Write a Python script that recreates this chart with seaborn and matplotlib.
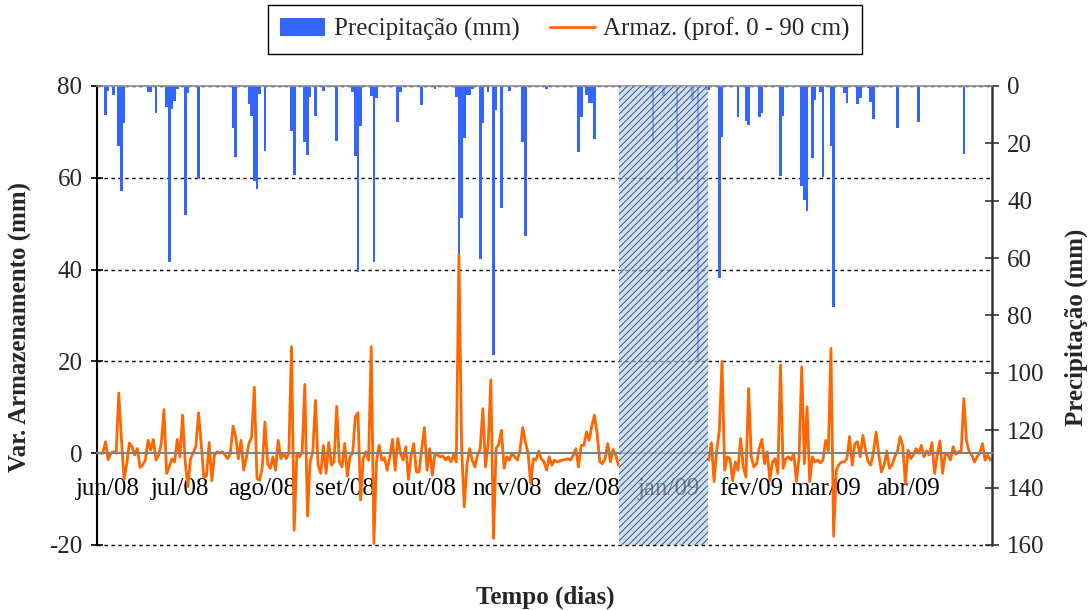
import numpy as np
import matplotlib
matplotlib.use("Agg")
import matplotlib.pyplot as plt
import matplotlib.transforms as mtransforms
from matplotlib.patches import Patch
from matplotlib.lines import Line2D
import seaborn as sns

# ---------------- data ----------------
month_labels = ["jun/08", "jul/08", "ago/08", "set/08", "out/08", "nov/08",
                "dez/08", "jan/09", "fev/09", "mar/09", "abr/09"]
month_start_day = [0, 30, 61, 92, 122, 153, 183, 214, 245, 273, 304]

# daily precipitation (mm): day index (0 = 1 jun 2008) and amount
precip_days = [2, 3, 5, 7, 8, 9, 10, 18, 19, 21, 25, 26, 27, 28, 29, 30, 32, 33, 37, 46,
               50, 51, 52, 55, 56, 57, 58, 59, 60, 62, 68, 69, 72, 73, 77, 78, 79, 81, 82,
               84, 86, 87, 89, 95, 96, 97, 98, 102, 103, 104, 112, 113, 121, 126, 133, 134,
               135, 136, 137, 138, 139, 140, 143, 144, 145, 146, 148, 149, 151, 154, 156,
               157, 158, 159, 160, 164, 168, 180, 181, 183, 184, 185, 186, 193, 207, 208,
               212, 217, 223, 225, 228, 229, 233, 234, 240, 241, 243, 244, 245, 248, 249,
               256, 257, 261, 262, 264, 265, 266, 268, 269, 271, 272, 275, 276, 279, 280,
               281, 282, 285, 286, 289, 290, 291, 296, 300, 308, 314, 316, 325]
precip_mm = [10, 1.6, 3, 21, 36.5, 13, 0.3, 2, 2, 9.3, 7.2, 61.5, 7.9, 5.1, 1, 0.3, 44.8, 2.3, 32.3, 0.3,
             14.5, 24.6, 0.5, 0.5, 6.3, 10.3, 33, 36, 2.8, 22.5, 0.5, 0.5, 15.6, 30.9, 19.4, 23.9, 3.7, 10.3, 0.5,
             1.6, 0.5, 0.5, 19, 2, 24.3, 64.7, 13.8, 3.4, 61.2, 4.1, 12.4, 2, 6.5, 0.9, 0.5, 3.7,
             60.6, 45.9, 18, 3, 3, 1, 60.3, 12.8, 0.5, 2, 93.7, 8.4, 42.4, 1.6, 0.5,
             0.5, 0.5, 19.4, 52.2, 0.5, 1, 22.9, 10.9, 3, 5.8, 5.8, 18.4, 0.5, 1.6, 19.4,
             3.4, 33.3, 4.9, 96, 1.4, 1.4, 66.8, 17.7, 10.7, 0.5, 12.1, 13.5, 0.5, 10.7, 9.3,
             31.2, 10.3, 0.3, 0.3, 35, 39.6, 43.4, 25, 4.8, 2, 31.6, 20.8, 77.2, 0.5, 2.3,
             5.8, 0.5, 6.2, 4.1, 0.6, 5.5, 11.4, 0.5, 14.5, 12.4, 0.5, 0.5, 23.6]

# storage variation (mm), first period: days 0..195
storage_part1 = [0, 0, 2.5, -1.4, 0, 0.3, 0, 13.1, 3, -5.7,
                 -2.3, 2.2, 1.4, -0.4, 1.0, -3.1, -2.6, -1.5, 2.8, 0.7,
                 3.0, -1.5, -0.4, 2.1, 9.5, -4.4, -3.0, -1.2, -1.9, 3.0,
                 -0.8, 8.3, -2.0, -7.3, -1.2, 0, 1.5, 8.8, 2.1, -5.2,
                 -5.0, 2.3, -6.0, -0.4, 0.3, 0, 0.3, -0.4, -1.2, 0,
                 5.9, 3.6, -1.2, 2.8, -3.7, -1.0, 2.1, 3.6, 14.4, -5.5,
                 -5.9, -3.0, 6.8, -2.3, -3.3, -0.8, -3.7, 2.8, -1.2, 0,
                 -1.2, 0, 23.2, -16.8, 0, -0.8, 0.3, 15, -13.7, -1.9,
                 0.3, 11.5, -2.6, -4.4, 1.7, -4.4, 2.3, -2.6, -1.9, 10.2,
                 -1.9, -3.0, 2.1, -5.0, -0.8, 0, 7.9, 8.8, -10.2, -1.2,
                 0.3, -1.5, 23.2, -19.7, -1.5, 1.7, -1.5, -1.0, -3.7, -0.8,
                 3.0, -3.7, 3.2, 0, -1.5, 1.4, -5.7, -0.5, 2.1, -4.1,
                 -4.1, 1.0, 5.6, -3.7, 1.0, -4.8, 0, -0.4, -0.8, -0.6,
                 -1.5, -0.8, -1.9, -0.4, -1.9, 43.2, 1.5, -11.7, -2.6, 1.0,
                 -1.5, -3.0, -0.4, 1.0, 9.7, -3.0, 2.1, 16, -18.6, 1.0,
                 2.0, 5.0, -3.3, -0.8, -1.5, 0, -0.8, -1.5, 0.7, 5.6,
                 2.5, 0, -6.6, -1.2, -1.5, 0.5, -1.2, -1.9, -3.7, -0.8,
                 -2.6, -1.5, -1.9, -1.7, -1.5, -1.4, -1.2, -1.5, -0.5, 1.0,
                 -3.0, 1.7, 1.7, 4.6, 2.8, 5.9, 8.3, 4.3, -1.9, -2.3,
                 -1.2, 2.1, -1.9, 0.8, -0.4, -2.6]
part1_first_day = 0

# second period: days 229..335
storage_part2 = [-1.5, 2.3, -6.2, 0.6, 5, 20, -3.7, -0.8, -1.2, -6.0,
                 -1.9, -3.7, 3.2, -3.0, -5.2, 14.1, -0.8, -3.0, -2.3, 1.0,
                 3.0, -2.3, 0.3, -5.9, -1.9, -1.2, -4.4, 19.2, -3.3, -1.2,
                 -0.8, -1.5, 0, -6.2, -0.8, 18.8, -2.3, 10.1, -6.2, -0.8,
                 -1.9, -1.5, -2.1, -1.5, 2.8, 0.5, 22.8, -18.1, -3.7, -2.5,
                 -1.9, -1.9, -1.2, 3.6, -2.6, 2.1, 2.5, -0.8, 3.9, 0.7,
                 -1.9, -2.6, 0.3, 4.6, -0.4, -4.1, -2.6, 0.5, -3.3, -2.6,
                 -0.8, 0.3, 3.6, 1.7, -6.6, 0.7, -1.2, -0.4, 1.0, 0,
                 1.7, -0.8, 0.5, -0.4, 2.3, -4.4, -0.4, 2.7, -4.4, 0,
                 -0.4, -1.5, 1.4, -0.2, 0.3, 0.5, 11.9, 2.8, 0.3, -0.4,
                 -1.9, -0.8, 0, 2.1, -1.5, -0.4, -1.5]
part2_first_day = 229

# period without storage data (shaded)
gap_start_day, gap_end_day = 195.3, 228.7

# ---------------- style ----------------
BLUE = "#3366FF"
ORANGE = "#FF6600"
sns.set_style("white")
plt.rcParams["font.family"] = ["Liberation Serif", "DejaVu Serif"]
plt.rcParams["axes.unicode_minus"] = False
plt.rcParams["hatch.linewidth"] = 0.7
FS = 18

fig = plt.figure(figsize=(10.91, 6.10), dpi=100)
ax = fig.add_axes([0.08891, 0.10656, 0.82035, 0.75246])
ax2 = ax.twinx()

# bars (right axis, inverted)
sns.barplot(x=precip_days, y=precip_mm, native_scale=True, color=BLUE,
            saturation=1, width=1.0, linewidth=0, errorbar=None, ax=ax2)
ax2.set_ylim(160, 0)
ax2.set_yticks(np.arange(0, 161, 20))

# storage lines (left axis)
d1 = np.arange(part1_first_day, part1_first_day + len(storage_part1))
d2 = np.arange(part2_first_day, part2_first_day + len(storage_part2))
for d, s in ((d1, storage_part1), (d2, storage_part2)):
    sns.lineplot(x=d, y=s, ax=ax, color=ORANGE, linewidth=2.0,
                 estimator=None, sort=False)

ax.set_ylim(-20, 80)
ax.set_yticks(np.arange(-20, 81, 20))
ax.set_xlim(-1.2, 335.6)
ax.set_xticks(month_start_day)
ax.set_xticklabels(month_labels)

# dotted grid on left-axis values, drawn beneath the bars
lo, hi = ax.get_ylim()
for v in ax.get_yticks():
    if v == 0:
        continue
    mm = (hi - v) / (hi - lo) * 160
    ax2.axhline(mm, color="black", linewidth=1.0, linestyle=(0, (2.5, 2.5)),
                zorder=0, clip_on=False)

# layering: line axes above bar axes
ax.set_zorder(ax2.get_zorder() + 1)
ax.patch.set_visible(False)

# shaded gap
ax.axvspan(gap_start_day, gap_end_day, facecolor=(0.70, 0.81, 0.92, 0.65),
           edgecolor=(0.22, 0.27, 0.38, 0.9), hatch="/////", linewidth=0, zorder=6)

# spines
ax.spines["bottom"].set_position(("data", 0))
ax.spines["bottom"].set_color("#808080")
ax.spines["bottom"].set_linewidth(1.5)
ax.spines["top"].set_color("#909090")
ax.spines["top"].set_linewidth(1.2)
ax.spines["left"].set_color("black")
ax.spines["left"].set_linewidth(1.5)
ax.spines["right"].set_color("#333333")
ax.spines["right"].set_linewidth(1.8)
for s in ax2.spines.values():
    s.set_visible(False)

ax.tick_params(axis="x", direction="out", length=5, width=1.2, color="#707070",
               pad=13, labelsize=FS, labelcolor="black")
ax.tick_params(axis="y", direction="inout", length=9, width=1.2, color="black",
               labelsize=FS, pad=6)
ax2.tick_params(axis="y", direction="inout", length=10, width=1.2, color="#333333",
                labelsize=FS, pad=6)

# nudge first month label right (as in the reference)
lab0 = ax.get_xticklabels()[0]
lab0.set_transform(lab0.get_transform() +
                   mtransforms.ScaledTranslation(0.07, 0, fig.dpi_scale_trans))

ax.set_xlabel("")
ax2.set_xlabel("")
ax.set_ylabel("Var. Armazenamento (mm)", fontsize=FS, fontweight="bold")
ax.yaxis.set_label_coords(-0.073, 0.475)
ax2.set_ylabel("Precipitação (mm)", fontsize=FS, fontweight="bold")
ax2.yaxis.set_label_coords(1.081, 0.475)

fig.text(545 / 1091, 1 - 597 / 610, "Tempo (dias)", fontsize=FS, fontweight="bold",
         ha="center", va="center")

handles = [Patch(facecolor=BLUE, edgecolor="none"),
           Line2D([0], [0], color=ORANGE, linewidth=2)]
leg = fig.legend(handles, ["Precipitação (mm)", "Armaz. (prof. 0 - 90 cm)"],
                 loc="center", bbox_to_anchor=(565 / 1091, 1 - 29.5 / 610), ncol=2,
                 fontsize=FS, frameon=True, fancybox=False, framealpha=1,
                 edgecolor="black", handlelength=1.8, handletextpad=0.35,
                 columnspacing=1.2, borderpad=0.5, borderaxespad=0)
leg.get_frame().set_linewidth(1.0)

fig.savefig("out.png", dpi=100)
